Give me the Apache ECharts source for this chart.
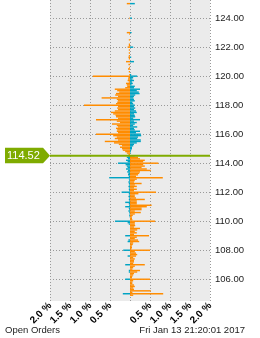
<!DOCTYPE html>
<html><head><meta charset="utf-8">
<script src="https://cdn.jsdelivr.net/npm/echarts@6/dist/echarts.min.js"></script>
<style>html,body{margin:0;padding:0;background:#fff}#c{width:260px;height:338px}</style>
</head><body><div id="c"></div>
<script>
// price levels (top to bottom)
const prices = [125.0,124.0,123.0,122.9,122.5,122.2,122.1,122.0,121.8,121.6,121.4,121.3,121.2,121.0,120.8,120.6,120.5,120.3,120.1,
120.0,119.9,119.8,119.7,119.6,119.5,119.4,119.3,119.2,119.1,119.0,118.9,118.8,118.7,118.6,118.5,118.4,118.3,118.2,118.1,
118.0,117.9,117.8,117.7,117.6,117.5,117.4,117.3,117.2,117.1,117.0,116.9,116.8,116.7,116.6,116.5,116.4,116.3,116.2,116.1,
116.0,115.9,115.8,115.7,115.6,115.5,115.4,115.3,115.2,115.1,115.0,114.9,114.8,114.7,114.6,
114.5,114.4,114.3,114.2,114.1,114.0,113.9,113.8,113.7,113.6,113.5,113.4,113.3,113.2,113.1,
113.0,112.9,112.8,112.7,112.6,112.5,112.4,112.3,112.2,112.1,112.0,111.9,111.8,111.7,111.6,111.5,111.4,111.3,111.2,111.1,
111.0,110.9,110.8,110.7,110.6,110.5,110.4,110.3,110.2,110.1,110.0,109.9,109.8,109.7,109.6,109.5,109.4,109.3,109.2,109.1,
109.0,108.9,108.8,108.7,108.6,108.5,108.4,108.3,108.2,108.1,108.0,107.9,107.8,107.7,107.6,107.5,107.4,107.3,107.2,107.1,
107.0,106.9,106.8,106.7,106.6,106.5,106.4,106.3,106.2,106.1,106.0,105.9,105.8,105.7,105.6,105.5,105.4,105.3,105.2,105.1,
105.0,104.9];
// orange orders (% of total, signed: left = negative)
const orangeValues = [-0.08,-0.02,-0.08,-0.02,-0.03,-0.03,-0.03,-0.06,-0.03,-0.03,-0.03,-0.04,-0.03,-0.1,-0.04,-0.02,-0.05,-0.03,-0.02,
-0.93,-0.04,-0.05,-0.06,-0.03,-0.1,-0.08,-0.07,-0.12,-0.38,-0.32,-0.27,-0.35,-0.37,-0.3,-0.71,-0.33,-0.3,-0.32,-0.35,
-1.15,-0.3,-0.32,-0.3,-0.38,-0.48,-0.42,-0.36,-0.35,-0.3,-0.85,-0.33,-0.25,-0.45,-0.33,-0.3,-0.35,-0.32,-0.33,-0.3,
-0.85,-0.42,-0.33,-0.38,-0.3,-0.63,-0.4,-0.28,-0.2,-0.25,-0.2,-0.18,-0.12,-0.08,-0.04,
0.12,0.2,0.25,0.37,0.33,0.71,0.33,0.37,0.29,0.42,0.52,0.25,0.23,0.2,0.15,
0.82,0.17,0.12,0.1,0.29,0.12,0.17,0.1,0.17,0.1,0.65,0.21,0.12,0.12,0.15,0.37,0.17,0.17,0.17,0.54,
0.42,0.29,0.29,0.12,0.27,0.12,0.07,0.05,0.05,0.06,0.63,0.12,0.12,0.13,0.1,0.25,0.18,0.12,0.17,0.1,
0.475,0.17,0.12,0.2,0.23,0.08,0.07,0.05,0.05,0.04,0.5,0.12,0.15,0.18,0.15,0.08,0.12,0.1,0.1,0.08,
0.37,0.12,0.08,0.06,0.25,0.18,0.1,0.08,0.06,0.05,0.5,0.08,0.06,0.06,0.1,0.12,0.08,0.1,0.52,0.06,
0.83,0.08];
// teal orders (% of total, signed)
const tealValues = [0.12,0.05,0.04,0,0,0,0,0.08,0,0,0,0.03,0,0.1,0,0,0,0,0.03,
0.18,0.08,0.06,0.1,0.05,0.07,0.04,0.12,0.1,0.25,0.17,0.22,0.24,0.13,0.1,0.08,0.1,0.12,0.06,0.08,
0.12,0.1,0.13,0.1,0.15,0.17,0.1,0.12,0.13,0.08,0.25,0.1,0.17,0.12,0.08,0.18,0.1,0.12,0.25,0.15,
0.27,0.28,0.2,0.18,0.27,0.27,0.17,0.1,0.08,0.05,0.05,0.03,0.02,0.01,0,
-0.04,-0.08,-0.05,-0.1,-0.06,-0.3,-0.11,-0.08,-0.06,-0.1,-0.05,-0.07,-0.04,-0.05,-0.03,
-0.52,-0.03,-0.02,-0.04,-0.03,-0.02,-0.04,-0.02,-0.03,-0.02,-0.21,-0.03,-0.02,-0.04,-0.02,-0.03,-0.02,-0.12,-0.03,-0.02,
-0.12,-0.03,-0.02,-0.04,-0.02,-0.01,-0.02,-0.01,0,0,-0.375,-0.06,-0.03,0,0,0,0,0,0,0,
-0.12,0,0,-0.04,-0.06,0,0,0,0,0,-0.17,0,0,0,-0.06,0,0,0,0,0,
-0.12,0,0,0,-0.03,-0.03,0,0,0,0,-0.12,0,0,0,0,0,0,0,0,0,
-0.18,0];
const lastPrice = 114.52;
const yTicks = [106,108,110,112,114,116,118,120,122,124];

const FONT = '"Liberation Sans", Arial, sans-serif';

const orangeData = prices.map((p,i)=>[orangeValues[i],p]).filter(d=>d[0]!==0);
const tealData = prices.map((p,i)=>[tealValues[i],p]).filter(d=>d[0]!==0);

function barRenderer(color){
  return function(params, api){
    const v = api.value(0), p = api.value(1);
    const s = api.coord([0,p]), e = api.coord([v,p]);
    const h = api.size([0,0.1])[1];
    return {type:'rect', shape:{x:Math.min(s[0],e[0]), y:s[1]-h/2, width:Math.abs(e[0]-s[0]), height:h},
      style:{fill:color}};
  };
}

const chart = echarts.init(document.getElementById('c'), null, {renderer:'canvas'});
chart.setOption({
  animation:false,
  grid:{left:50,right:50,top:0,bottom:37,show:true,backgroundColor:'#ebebeb',borderWidth:0},
  xAxis:{type:'value',min:-2,max:2,interval:0.5,
    axisLine:{show:false},axisTick:{show:false},
    splitLine:{show:true,lineStyle:{color:'#999',type:[1,2],width:1}},
    axisLabel:{rotate:45,margin:3,fontSize:10,fontWeight:'bold',color:'#000',fontFamily:FONT,
      formatter:v=>v===0?'':Math.abs(v).toFixed(1)+' %'}},
  yAxis:{type:'value',position:'right',min:104.5,max:125.25,
    axisLine:{show:false},
    axisTick:{show:false,customValues:yTicks},
    splitLine:{show:true,lineStyle:{color:'#999',type:[1,2],width:1}},
    axisLabel:{customValues:yTicks,margin:5,fontSize:9.5,color:'#222',fontFamily:FONT,
      formatter:v=>v.toFixed(2)}},
  series:[
    {type:'custom',renderItem:barRenderer('#ff8c00'),data:orangeData,encode:{x:0,y:1},silent:true},
    {type:'custom',renderItem:barRenderer('#00a3c3'),data:tealData,encode:{x:0,y:1},silent:true},
    {type:'custom',clip:false,silent:true,data:[[0,lastPrice]],encode:{x:0,y:1},
      renderItem:function(params,api){
        const p = api.value(1);
        const l = api.coord([-2,p]), r = api.coord([2,p]);
        const y = l[1];
        return {type:'group',children:[
          {type:'line',shape:{x1:l[0],y1:y,x2:r[0],y2:y},style:{stroke:'#7fab00',lineWidth:2}},
          {type:'polygon',shape:{points:[[5,y-8],[43,y-8],[l[0],y],[43,y+7.5],[5,y+7.5]]},style:{fill:'#7fab00'}},
          {type:'text',style:{text:p.toFixed(2),x:7,y:y,verticalAlign:'middle',align:'left',fill:'#fff',
            font:'11px ' + FONT}}
        ]};
      }}
  ],
  graphic:[
    {type:'text',left:5,top:325,style:{text:'Open Orders',fill:'#222',font:'9.5px ' + FONT}},
    {type:'text',right:15,top:325,style:{text:'Fri Jan 13 21:20:01 2017',fill:'#222',font:'9.5px ' + FONT}}
  ]
});
</script></body></html>
